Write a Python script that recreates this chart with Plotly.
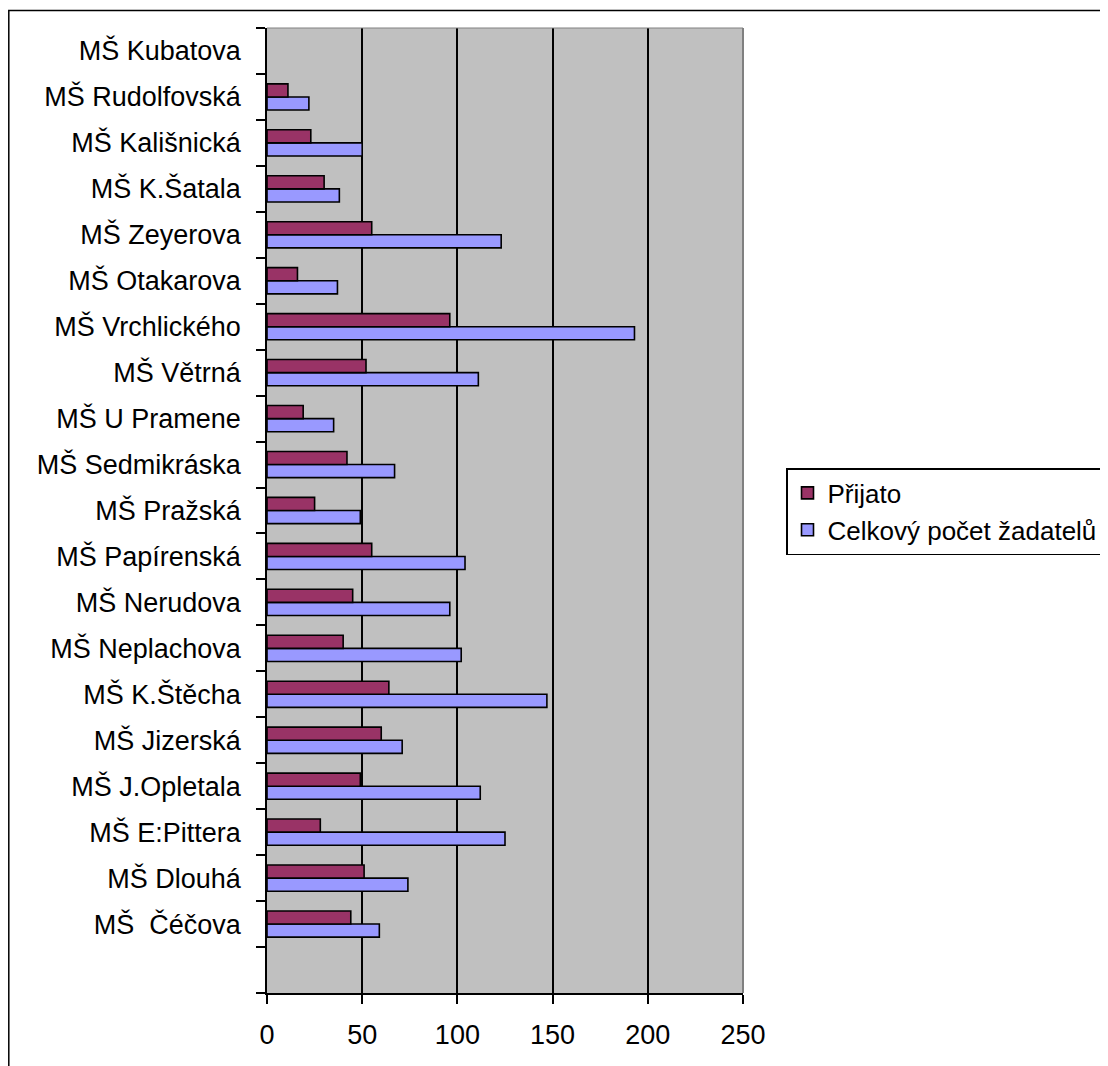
import plotly.graph_objects as go

# Categories from bottom to top (first one is an empty row)
categories = [" ", "MŠ\u00a0 Čéčova", "MŠ Dlouhá", "MŠ E:Pittera", "MŠ J.Opletala", "MŠ Jizerská",
              "MŠ K.Štěcha", "MŠ Neplachova", "MŠ Nerudova", "MŠ Papírenská", "MŠ Pražská",
              "MŠ Sedmikráska", "MŠ U Pramene", "MŠ Větrná", "MŠ Vrchlického", "MŠ Otakarova",
              "MŠ Zeyerova", "MŠ K.Šatala", "MŠ Kališnická", "MŠ Rudolfovská", "MŠ Kubatova"]

prijato = [None, 44, 51, 28, 49, 60, 64, 40, 45, 55, 25, 42, 19, 52, 96, 16, 55, 30, 23, 11, None]
celkem = [None, 59, 74, 125, 112, 71, 147, 102, 96, 104, 49, 67, 35, 111, 193, 37, 123, 38, 50, 22, None]

x_ticks = [0, 50, 100, 150, 200, 250]

# the page adds an 8px body margin; work in page pixels and subtract it
OFF = 8
W, H = 1108 - OFF, 1066 - OFF
L, R, T, B = 267 - OFF, 743 - OFF, 28 - OFF, 993 - OFF


def px_x(p):  # page pixel -> paper
    return (p - OFF - L) / (R - L)


def px_y(p):
    return (B - (p - OFF)) / (B - T)


FONT = "Liberation Sans, Arial, sans-serif"
FS = 27

fig = go.Figure()
fig.add_trace(go.Bar(
    y=categories, x=celkem, orientation="h", name="Celkový počet žadatelů",
    marker=dict(color="#9999FF", line=dict(color="black", width=1.6)),
))
fig.add_trace(go.Bar(
    y=categories, x=prijato, orientation="h", name="Přijato",
    marker=dict(color="#993366", line=dict(color="black", width=1.6)),
))

fig.update_layout(
    width=W, height=H,
    margin=dict(l=L, r=W - R, t=T, b=H - B, autoexpand=False),
    paper_bgcolor="white",
    plot_bgcolor="#C0C0C0",
    barmode="group",
    bargap=0.43,
    bargroupgap=0,
    font=dict(family=FONT, size=FS, color="black"),
    legend=dict(
        x=px_x(786), y=px_y(468), xanchor="left", yanchor="top",
        traceorder="reversed",
        bgcolor="white", bordercolor="black", borderwidth=1.5,
        font=dict(family=FONT, size=26, color="black"),
        tracegroupgap=0,
    ),
    xaxis=dict(
        range=[0, 250], tickvals=x_ticks, ticktext=[str(v) for v in x_ticks],
        showgrid=True, gridcolor="black", gridwidth=1.5,
        zeroline=False,
        showline=True, linecolor="black", linewidth=1.5,
        ticks="outside", ticklen=9, tickwidth=1.5, tickcolor="black",
        ticklabelstandoff=8,
    ),
    yaxis=dict(
        type="category", categoryorder="array", categoryarray=categories,
        range=[-0.5, len(categories) - 0.5],
        showgrid=False, zeroline=False,
        showline=True, linecolor="black", linewidth=1.5,
        ticks="outside", tickson="boundaries", ticklen=9, tickwidth=1.5, tickcolor="black",
        ticklabelstandoff=19,
    ),
    shapes=[
        # plot area border (right and top) in grey
        dict(type="line", xref="paper", yref="paper", x0=1, x1=1, y0=0, y1=1,
             line=dict(color="#808080", width=2), layer="above"),
        dict(type="line", xref="paper", yref="paper", x0=0, x1=1, y0=1, y1=1,
             line=dict(color="#808080", width=1), layer="above"),
        # outer chart border
        dict(type="rect", xref="paper", yref="paper",
             x0=px_x(8.8), x1=px_x(1130), y0=px_y(1090), y1=px_y(10.5),
             line=dict(color="black", width=1.5), fillcolor="rgba(0,0,0,0)", layer="above"),
    ],
)

fig.write_html("out.html")
